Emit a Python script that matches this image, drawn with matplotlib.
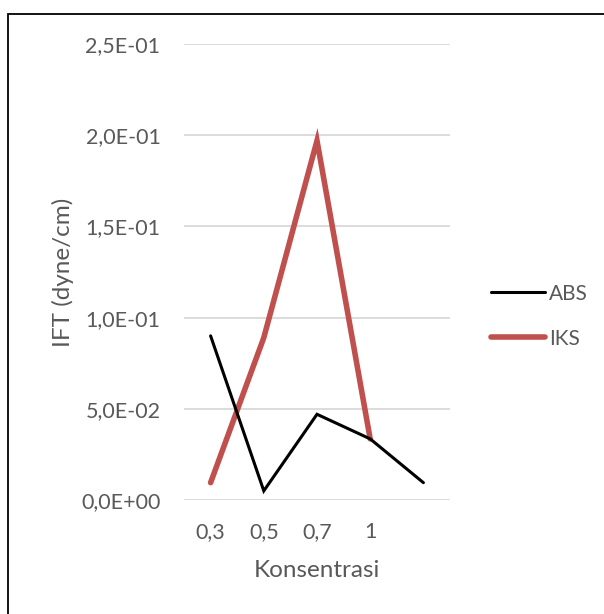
import matplotlib.pyplot as plt
from matplotlib.patches import Rectangle

plt.rcParams['font.family'] = ['Lato', 'DejaVu Sans']

categories = ['0,3', '0,5', '0,7', '1', '']
abs_values = [0.090, 0.005, 0.047, 0.0335, 0.0095]
iks_values = [0.0095, 0.089, 0.197, 0.0335]
y_ticks = [0, 0.05, 0.10, 0.15, 0.20, 0.25]
y_labels = ['0,0E+00', '5,0E-02', '1,0E-01', '1,5E-01', '2,0E-01', '2,5E-01']

grey = '#595959'

fig = plt.figure(figsize=(6.04, 6.14), dpi=100)
ax = fig.add_axes([184 / 604, 1 - 500 / 614, 266 / 604, 456 / 614])

x_abs = list(range(len(abs_values)))
x_iks = list(range(len(iks_values)))
ax.plot(x_abs, abs_values, color='black', lw=2.2, solid_capstyle='round',
        solid_joinstyle='miter', label='ABS', zorder=3)
ax.plot(x_iks, iks_values, color='#C0504D', lw=4.0, solid_capstyle='round',
        solid_joinstyle='miter', label='IKS', zorder=2)

ax.set_xlim(-0.5, len(categories) - 0.5)
ax.set_ylim(0, 0.25)
ax.set_xticks(range(len(categories)))
ax.set_xticklabels(categories)
ax.set_yticks(y_ticks)
ax.set_yticklabels(y_labels)
ax.tick_params(length=0, colors=grey, labelsize=15.5)
ax.tick_params(axis='x', pad=16)
ax.tick_params(axis='y', pad=17)
ax.grid(axis='y', color='#d9d9d9', lw=1.3)
ax.set_axisbelow(True)
for s in ax.spines.values():
    s.set_visible(False)

ax.set_ylabel('IFT (dyne/cm)', color=grey, fontsize=17.5, labelpad=5)
ax.set_xlabel('Konsentrasi', color=grey, fontsize=17.5, labelpad=13)

leg = ax.legend(loc='center left', bbox_to_anchor=(1.123, 0.4035), frameon=False,
                fontsize=15, handlelength=2.6, handletextpad=0.19,
                labelspacing=1.2, borderaxespad=0, labelcolor=grey)

fig.patches.append(Rectangle((8 / 604, -0.05), 1.2, 1 - 14 / 614 + 0.05,
                             transform=fig.transFigure, fill=False,
                             ec='black', lw=1.3))

fig.savefig('out.png', dpi=100)
